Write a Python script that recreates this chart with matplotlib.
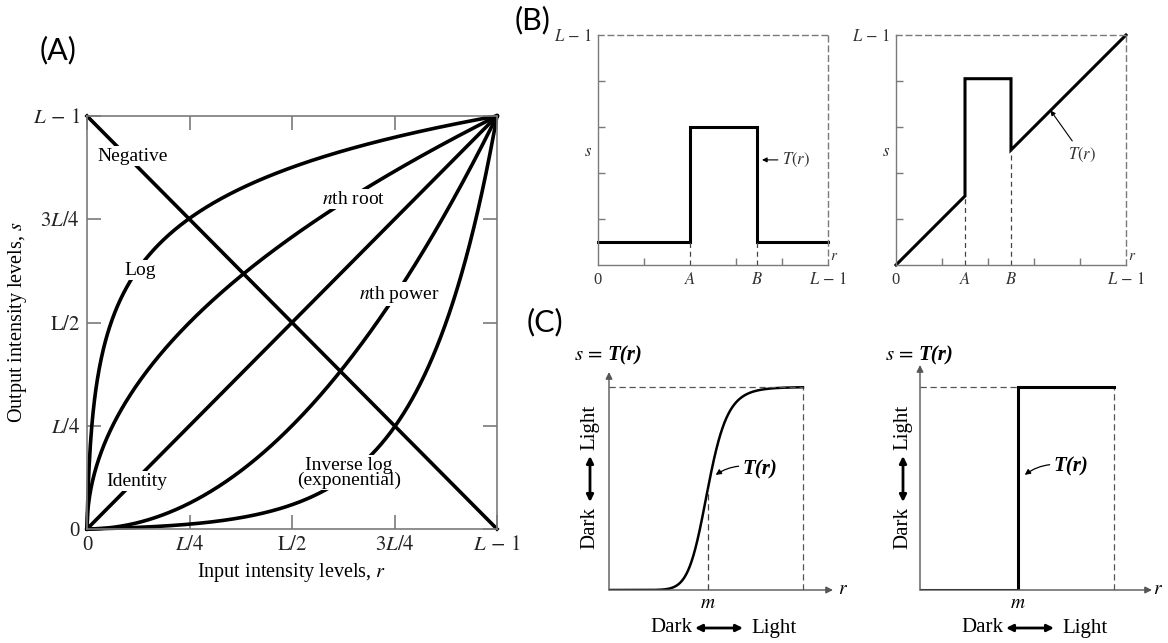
import numpy as np
import matplotlib.pyplot as plt
from matplotlib.patches import FancyArrowPatch

plt.rcParams['font.family'] = ['Liberation Serif', 'DejaVu Serif']
plt.rcParams['mathtext.fontset'] = 'stix'

W, H = 1168, 643

# --- (A) basic intensity transformation functions ---
quarter_ticks = [0, 0.25, 0.5, 0.75, 1.0]
quarter_labels = ['0', r'$L/4$', r'$\mathrm{L}/2$', r'$3L/4$', r'$L\,-\,1$']
log_const = 255          # s = log(1 + c r) / log(1 + c)
root_exp = 0.5           # nth root
power_exp = 2.0          # nth power

# label text and where it sits (r, s)
a_labels = ['Negative', 'Log', r'$n$th root', r'$n$th power', 'Identity',
            'Inverse log\n(exponential)']
a_label_r = [0.110, 0.129, 0.651, 0.761, 0.122, 0.639]
a_label_s = [0.903, 0.627, 0.799, 0.569, 0.116, 0.136]

# --- (B) intensity-level slicing ---
b1_A, b1_B, b1_low, b1_high = 0.40, 0.69, 0.10, 0.60
b2_A, b2_B, b2_high = 0.30, 0.50, 0.81
b_minor = [0.2, 0.4, 0.6, 0.8]

# --- (C) contrast stretching / thresholding ---
c1_m, c1_E = 0.51, 10
c2_m = 0.505

GRAY = '#7a7a7a'
DASH = (0, (4, 3))


def fx(x):
    return x / W


def fy(y):
    return 1 - y / H


def axes_px(x0, y0, x1, y1):
    return fig.add_axes([x0 / W, 1 - y1 / H, (x1 - x0) / W, (y1 - y0) / H])


fig = plt.figure(figsize=(W / 100, H / 100), dpi=100)

# ================= panel A =================
ax = axes_px(87, 116, 497, 529)
ax.set_xlim(0, 1)
ax.set_ylim(0, 1)
for sp in ax.spines.values():
    sp.set_color(GRAY)
    sp.set_linewidth(1.2)
ax.set_xticks(quarter_ticks, quarter_labels)
ax.set_yticks(quarter_ticks, quarter_labels)
ax.tick_params(direction='in', length=10, width=1.2, color=GRAY, top=True,
               right=True, labelsize=15, labelcolor='#222222')
ax.tick_params(axis='x', pad=5)
ax.tick_params(axis='y', pad=5)

r = np.linspace(0, 1, 600)
curves = [
    1 - r,                                              # negative
    np.log1p(log_const * r) / np.log1p(log_const),      # log
    r ** root_exp,                                      # nth root
    r,                                                  # identity
    r ** power_exp,                                     # nth power
    np.expm1(r * np.log1p(log_const)) / log_const,      # inverse log
]
for c in curves:
    ax.plot(r, c, color='black', lw=2.6, clip_on=False, zorder=2)

for txt, lr, ls in zip(a_labels, a_label_r, a_label_s):
    ax.text(lr, ls, txt, ha='center', va='center', fontsize=14,
            linespacing=0.85, zorder=3,
            bbox=dict(fc='white', ec='none', pad=1.0))

fig.text(fx(18), fy(322), r'Output intensity levels, $s$', rotation=90,
         ha='center', va='center', fontsize=14.5)
fig.text(fx(292), fy(573), r'Input intensity levels, $r$',
         ha='center', va='center', fontsize=14.5)


# ================= panel B =================
def style_b(ax, A, B):
    ax.set_xlim(0, 1)
    ax.set_ylim(0, 1)
    for name in ['left', 'bottom']:
        ax.spines[name].set_color(GRAY)
        ax.spines[name].set_linewidth(1.0)
    for name in ['top', 'right']:
        ax.spines[name].set_color(GRAY)
        ax.spines[name].set_linewidth(1.0)
        ax.spines[name].set_linestyle(DASH)
    ax.set_xticks([0, A, B, 1], ['0', r'$A$', r'$B$', r'$L\,-\,1$'])
    ax.set_yticks([0.5, 1.0], [r'$s$', r'$L\,-\,1$'])
    ax.set_xticks(b_minor, minor=True)
    ax.set_yticks(b_minor, minor=True)
    ax.tick_params(which='major', length=0, labelsize=12,
                   labelcolor='#333333')
    ax.tick_params(axis='x', which='major', pad=5)
    ax.tick_params(axis='y', which='major', pad=4)
    ax.tick_params(which='minor', direction='in', length=5, width=1,
                   color=GRAY)
    ax.text(1.01, 0.01, r'$r$', transform=ax.transAxes, ha='left',
            va='bottom', fontsize=11, color='#333333')


axb1 = axes_px(598, 35, 828, 265)
style_b(axb1, b1_A, b1_B)
axb1.plot([0, b1_A, b1_A, b1_B, b1_B, 1],
          [b1_low, b1_low, b1_high, b1_high, b1_low, b1_low],
          color='black', lw=2.2, clip_on=False, solid_joinstyle='miter')
for xv in [b1_A, b1_B]:
    axb1.plot([xv, xv], [0, b1_low], color='#444444', lw=0.9, ls=DASH)
axb1.annotate(r'$T(r)$', xy=(0.713, 0.457), xytext=(0.80, 0.457),
              ha='left', va='center', fontsize=12, color='#333333',
              arrowprops=dict(arrowstyle='-|>', lw=0.8, color='black',
                              mutation_scale=7, shrinkA=1, shrinkB=0))

axb2 = axes_px(896, 35, 1126, 265)
style_b(axb2, b2_A, b2_B)
axb2.plot([0, b2_A, b2_A, b2_B, b2_B, 1],
          [0, b2_A, b2_high, b2_high, b2_B, 1],
          color='black', lw=2.2, clip_on=False, solid_joinstyle='miter')
for xv in [b2_A, b2_B]:
    axb2.plot([xv, xv], [0, xv], color='#444444', lw=0.9, ls=DASH)
axb2.annotate(r'$T(r)$', xy=(0.672, 0.672), xytext=(0.81, 0.478),
              ha='center', va='center', fontsize=12, color='#333333',
              arrowprops=dict(arrowstyle='-|>', lw=0.8, color='black',
                              mutation_scale=7, shrinkA=2, shrinkB=0))


# ================= panel C =================
def style_c(ax, xmax, ymax):
    ax.set_xlim(0, xmax)
    ax.set_ylim(0, ymax)
    ax.axis('off')
    kw = dict(arrowstyle='-|>', lw=1.0, color='#555555', mutation_scale=10,
              shrinkA=0, shrinkB=0)
    ax.annotate('', xy=(xmax, 0), xytext=(0, 0), arrowprops=kw)
    ax.annotate('', xy=(0, ymax), xytext=(0, 0), arrowprops=kw)
    ax.plot([1, 1], [0, 1], color='#555555', lw=0.9, ls=(0, (5, 3)))


def double_arrow(p0, p1):
    fig.add_artist(FancyArrowPatch((fx(p0[0]), fy(p0[1])),
                                   (fx(p1[0]), fy(p1[1])),
                                   transform=fig.transFigure,
                                   arrowstyle='<|-|>', mutation_scale=10,
                                   lw=2.0, color='black',
                                   shrinkA=0, shrinkB=0))


def dark_light(x0, x_vert):
    # x0: pixel position of the y axis
    y = 628
    fig.text(fx(x0 + 83), fy(y), 'Dark', ha='right', va='center', fontsize=15)
    fig.text(fx(x0 + 142), fy(y), 'Light', ha='left', va='center', fontsize=15)
    double_arrow((x0 + 86, y), (x0 + 134, y))
    fig.text(fx(x_vert), fy(549), 'Dark', rotation=90, ha='center',
             va='bottom', fontsize=15)
    fig.text(fx(x_vert), fy(450), 'Light', rotation=90, ha='center',
             va='bottom', fontsize=15)
    double_arrow((x_vert, 502), (x_vert, 456))


def s_equals(x_axis):
    fig.text(fx(x_axis - 6), fy(355), r'$s\,=$', ha='right', va='center',
             fontsize=15)
    fig.text(fx(x_axis - 2), fy(355), 'T(r)', ha='left', va='center',
             fontsize=15, style='italic', weight='bold')


tr_kw = dict(arrowstyle='-|>', lw=0.9, color='black', mutation_scale=8,
             shrinkA=1, shrinkB=0, connectionstyle='arc3,rad=0.25')

# left: contrast stretching
axc1 = axes_px(609, 372, 833, 590)
style_c(axc1, 1.155, 1.074)
rc = np.linspace(1e-4, 1, 500)
tc = 1 / (1 + (c1_m / rc) ** c1_E)
axc1.plot(rc, tc, color='black', lw=1.8)
axc1.plot([0, 1], [1, 1], color='#555555', lw=0.9, ls=(0, (5, 3)))
axc1.plot([c1_m, c1_m], [0, 0.5], color='#444444', lw=0.9,
          ls=(0, (5, 3)))
axc1.annotate('T(r)', xy=(0.55, 0.567), xytext=(0.69, 0.596),
              ha='left', va='center', fontsize=15, style='italic',
              weight='bold', arrowprops=tr_kw)
s_equals(609)
fig.text(fx(708), fy(603), r'$m$', ha='center', va='center', fontsize=14)
fig.text(fx(843), fy(590), r'$r$', ha='center', va='center', fontsize=14)
dark_light(609, 590)

# right: thresholding
axc2 = axes_px(920, 365, 1152, 590)
style_c(axc2, 1.196, 1.108)
axc2.plot([0, c2_m, c2_m, 1], [0, 0, 1, 1], color='black', lw=2.2,
          solid_joinstyle='miter')
axc2.plot([0, c2_m], [1, 1], color='#555555', lw=0.9, ls=(0, (5, 3)))
axc2.annotate('T(r)', xy=(0.54, 0.567), xytext=(0.69, 0.606),
              ha='left', va='center', fontsize=15, style='italic',
              weight='bold', arrowprops=tr_kw)
s_equals(920)
fig.text(fx(1018), fy(603), r'$m$', ha='center', va='center', fontsize=14)
fig.text(fx(1158), fy(590), r'$r$', ha='center', va='center', fontsize=14)
dark_light(920, 903)

# panel letters
for lab, x, y in [('(A)', 58, 50), ('(B)', 533, 20), ('(C)', 545, 322)]:
    fig.text(fx(x), fy(y), lab, ha='center', va='center', fontsize=22,
             family='Lato')

fig.savefig('out.png', dpi=100)
